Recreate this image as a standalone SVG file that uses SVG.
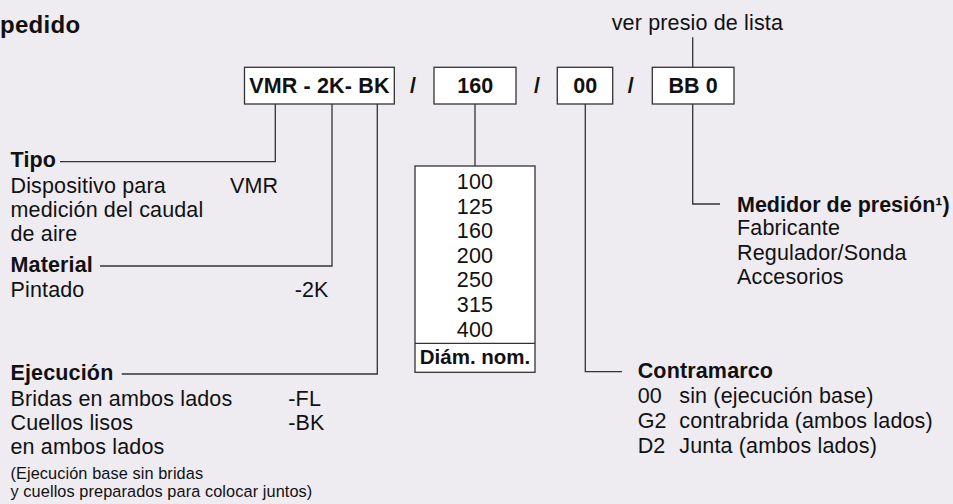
<svg xmlns="http://www.w3.org/2000/svg" width="953" height="504" viewBox="0 0 953 504">
<style>
text{font-family:"Liberation Sans",Arial,sans-serif;fill:#111;font-size:21.5px;letter-spacing:0.15px}
.b{font-weight:bold}
.s{font-size:16.3px;letter-spacing:0.1px}
.m{text-anchor:middle}
.box{fill:#fff;stroke:#333;stroke-width:1.3}
.ln{fill:none;stroke:#333;stroke-width:1.3}
</style>
<rect width="953" height="504" fill="#EEEBF1"/>
<text class="b" x="0" y="33.3" style="font-size:24px;letter-spacing:0.3px">pedido</text>
<g id="connectors">
<polyline class="ln" points="275.3,104 275.3,161.7 60,161.7"/>
<polyline class="ln" points="332,104 332,266 100,266"/>
<polyline class="ln" points="377.3,104 377.3,374 121.7,374"/>
<line class="ln" x1="475" y1="104" x2="475" y2="166"/>
<polyline class="ln" points="585.3,104 585.3,371.7 622,371.7"/>
<polyline class="ln" points="692.7,104 692.7,204 720,204"/>
<line class="ln" x1="692.7" y1="37.3" x2="692.7" y2="67.3"/>
</g>
<g id="code-vmr">
<rect class="box" x="244.5" y="67.3" width="149.8" height="36.7"/>
<text class="b m" x="319.4" y="93.3">VMR - 2K- BK</text>
</g>
<text class="b m" x="413" y="93.3">/</text>
<g id="code-160">
<rect class="box" x="434" y="67.3" width="82" height="36.7"/>
<text class="b m" x="475.3" y="93.3">160</text>
</g>
<text class="b m" x="537" y="93.3">/</text>
<g id="code-00">
<rect class="box" x="557.3" y="67.3" width="55.4" height="36.7"/>
<text class="b m" x="585.3" y="93.3">00</text>
</g>
<text class="b m" x="630.7" y="93.3">/</text>
<g id="code-bb0">
<rect class="box" x="652.3" y="67.3" width="81.7" height="36.7"/>
<text class="b m" x="693.2" y="93.3">BB 0</text>
</g>
<g id="lista">
<text x="611.7" y="30">ver presio de lista</text>
</g>
<g id="tipo">
<text class="b" x="10.5" y="167.3">Tipo</text>
<text x="10.5" y="193.3">Dispositivo para</text>
<text x="10.5" y="216.7">medición del caudal</text>
<text x="10.5" y="241">de aire</text>
<text x="230" y="193.3">VMR</text>
</g>
<g id="material">
<text class="b" x="10.5" y="271.7">Material</text>
<text x="10.5" y="297.3">Pintado</text>
<text x="294.7" y="297.3">-2K</text>
</g>
<g id="ejecucion">
<text class="b" x="10.5" y="380">Ejecución</text>
<text x="10.5" y="405.7">Bridas en ambos lados</text>
<text x="288.3" y="405.7">-FL</text>
<text x="10.5" y="430">Cuellos lisos</text>
<text x="288.3" y="430">-BK</text>
<text x="10.5" y="454">en ambos lados</text>
<text class="s" x="10.5" y="479.3">(Ejecución base sin bridas</text>
<text class="s" x="10.5" y="496.7">y cuellos preparados para colocar juntos)</text>
</g>
<g id="diametro">
<rect class="box" x="415" y="166" width="120" height="206.3"/>
<line class="ln" x1="415" y1="343.3" x2="535" y2="343.3"/>
<text class="m" x="475" y="189.3">100</text>
<text class="m" x="475" y="214">125</text>
<text class="m" x="475" y="238.3">160</text>
<text class="m" x="475" y="262.7">200</text>
<text class="m" x="475" y="287.3">250</text>
<text class="m" x="475" y="312">315</text>
<text class="m" x="475" y="336.7">400</text>
<text class="b m" x="475" y="364" style="font-size:20.5px;letter-spacing:0">Diám. nom.</text>
</g>
<g id="contramarco">
<text class="b" x="637.7" y="378">Contramarco</text>
<text x="637.7" y="403.3">00</text>
<text x="679.3" y="403.3">sin (ejecución base)</text>
<text x="637.7" y="428.3">G2</text>
<text x="679.3" y="428.3">contrabrida (ambos lados)</text>
<text x="637.7" y="452.7">D2</text>
<text x="679.3" y="452.7">Junta (ambos lados)</text>
</g>
<g id="medidor">
<text class="b" x="737" y="212.3" style="letter-spacing:0">Medidor de presión¹)</text>
<text x="737" y="235">Fabricante</text>
<text x="737" y="260">Regulador/Sonda</text>
<text x="737" y="284">Accesorios</text>
</g>
</svg>
